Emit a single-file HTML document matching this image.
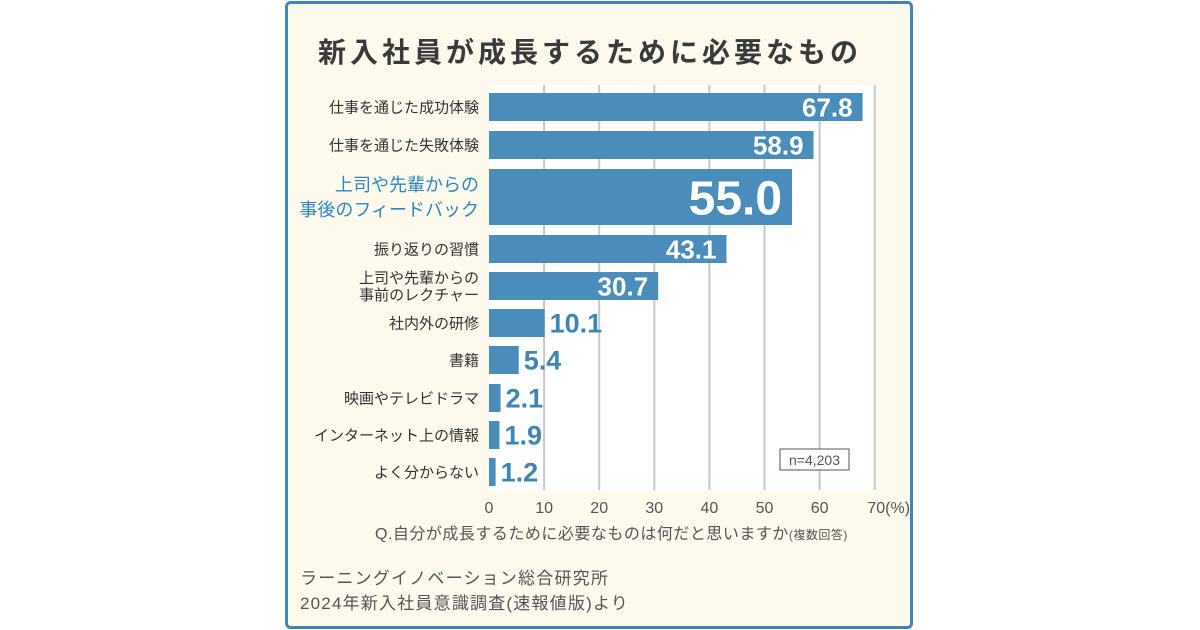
<!DOCTYPE html>
<html><head><meta charset="utf-8"><style>
body{margin:0;background:#fff;}
svg{display:block;font-family:"Liberation Sans","Noto Sans CJK JP",sans-serif;}
</style></head><body>
<svg id="c" width="1200" height="630" xmlns="http://www.w3.org/2000/svg">
<rect x="286.5" y="2.5" width="625" height="625" rx="4" fill="#fdf9ec" stroke="#3f86b5" stroke-width="3"/>
<text x="590" y="62" text-anchor="middle" font-size="28" font-weight="bold" fill="#3a3a3a" letter-spacing="4">新入社員が成長するために必要なもの</text>
<rect x="489" y="85" width="386" height="405" fill="#fff"/>
<g id="grid"></g><g id="bars"></g>
<rect x="780" y="449" width="69" height="21" fill="#fff" stroke="#555"/>
<text x="814.5" y="465" text-anchor="middle" font-size="14" fill="#555">n=4,203</text>
<text x="375" y="539" font-size="16" fill="#555" letter-spacing="0.5">Q.自分が成長するために必要なものは何だと思いますか<tspan font-size="12">(複数回答)</tspan></text>
<text x="300" y="584" font-size="17" fill="#555" letter-spacing="1.2">ラーニングイノベーション総合研究所</text>
<text x="300" y="609" font-size="17" fill="#555" letter-spacing="1.2">2024年新入社員意識調査(速報値版)より</text>
</svg>
<script>
const categories=[["仕事を通じた成功体験"],["仕事を通じた失敗体験"],["上司や先輩からの","事後のフィードバック"],["振り返りの習慣"],["上司や先輩からの","事前のレクチャー"],["社内外の研修"],["書籍"],["映画やテレビドラマ"],["インターネット上の情報"],["よく分からない"]];
const values=[67.8,58.9,55.0,43.1,30.7,10.1,5.4,2.1,1.9,1.2];
const ticks=[0,10,20,30,40,50,60,70];
const NS="http://www.w3.org/2000/svg";
const x0=489,sc=5.51;
const X=v=>x0+v*sc;
const rowsY=[107,145,197,249,286,323,360,398,435,472];
const rowH=[28,28,56,28,28,28,28,28,28,28];
function mk(t,a,p){const e=document.createElementNS(NS,t);for(const k in a)e.setAttribute(k,a[k]);p.appendChild(e);return e;}
const g=document.getElementById('grid'),b=document.getElementById('bars'),svg=document.getElementById('c');
ticks.forEach(t=>{
 if(t>0){const l=mk('line',{x1:X(t),x2:X(t),y1:85,y2:490,stroke:'#c8c8c8','stroke-width':2},g);
 
 }
 const tx=mk('text',{x:X(t),y:513,'text-anchor':'middle','font-size':16,fill:'#555'},svg);
 tx.textContent=t===70?'70(%)':t;
 if(t===70)tx.setAttribute('x',X(t)+14);
 
 
});
values.forEach((v,i)=>{
 const y=rowsY[i],h=rowH[i],big=i===2;
 const r=mk('rect',{x:x0,y:y-h/2,width:v*sc,height:h,fill:'#4a8dba'},b);
 
 
 const inside=v>20;
 const fs=big?48:(inside?26:27);
 const t=mk('text',{x:inside?X(v)-10:X(v)+5,y:y+fs*0.36,'text-anchor':inside?'end':'start','font-size':fs,'font-weight':'bold',fill:inside?'#fff':'#3f86b5'},b);
 t.textContent=v.toFixed(1);
 
 
 const lines=categories[i];const lf=big?18:15;const lh=big?25:17;
 lines.forEach((s,j)=>{
  const ty=y+lf*0.36+(j-(lines.length-1)/2)*lh;
  const c=mk('text',{x:479,y:ty,'text-anchor':'end','font-size':lf,fill:big?'#2f86c0':'#333'},b);
  c.textContent=s;
  
  
 });
});
</script>
</body></html>
